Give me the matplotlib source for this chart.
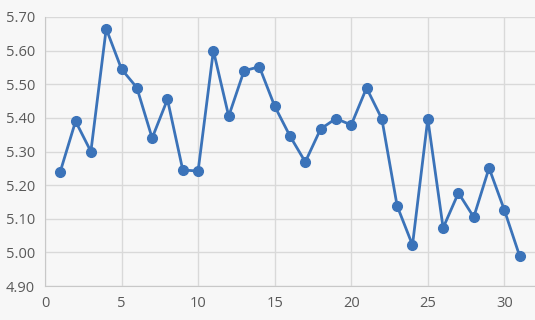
import numpy as np
import matplotlib
matplotlib.use("Agg")
import matplotlib.pyplot as plt

# readings per period
periods = list(range(1, 32))
values = [5.24, 5.39, 5.30, 5.665, 5.545, 5.49, 5.34, 5.455, 5.245, 5.242,
          5.60, 5.405, 5.54, 5.552, 5.435, 5.346, 5.269, 5.367, 5.398, 5.379,
          5.489, 5.397, 5.138, 5.022, 5.397, 5.073, 5.177, 5.105, 5.251, 5.126,
          4.989]
x_ticks = [0, 5, 10, 15, 20, 25, 30]
y_ticks = [4.90, 5.00, 5.10, 5.20, 5.30, 5.40, 5.50, 5.60, 5.70]

plt.rcParams["font.family"] = ["Open Sans", "DejaVu Sans"]

fig = plt.figure(figsize=(5.35, 3.2), dpi=100, facecolor="#f7f7f7")
ax = fig.add_axes([0.084, 0.106, 0.916, 0.841])
ax.set_facecolor("#f7f7f7")

ax.plot(periods, values, "o-", color="#3b73b9", lw=2, ms=7, zorder=3)

ax.set_xlim(0, 32)
ax.set_ylim(4.90, 5.70)
ax.set_xticks(x_ticks)
ax.set_yticks(y_ticks)
ax.set_yticklabels([f"{v:.2f}" for v in y_ticks])
ax.grid(True, color="#d9d9d9", lw=1)
ax.set_axisbelow(True)
for s in ["top", "right"]:
    ax.spines[s].set_visible(False)
for s in ["left", "bottom"]:
    ax.spines[s].set_color("#c8c8c8")
ax.tick_params(length=0, colors="#595959", labelsize=10.5, pad=7)

fig.savefig("out.png", dpi=100, facecolor=fig.get_facecolor())
